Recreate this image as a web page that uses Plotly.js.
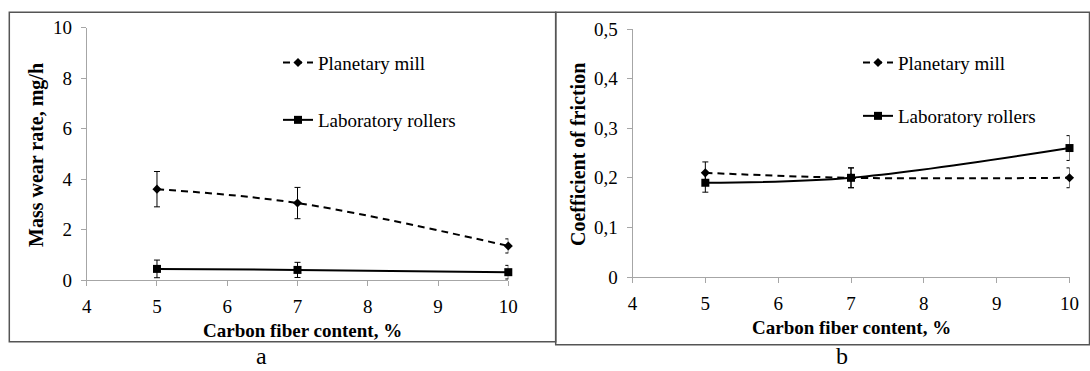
<!DOCTYPE html>
<html>
<head>
<meta charset="utf-8">
<script src="https://cdn.plot.ly/plotly-3.0.1.min.js"></script>
<style>
  html, body { margin: 0; padding: 0; background: #fff; }
  #chart { width: 1090px; height: 371px; }
</style>
</head>
<body>
<div id="chart"></div>
<script>
// ---- Data ----
const carbonContent = [5, 7, 10];

// Panel a: mass wear rate, mg/h
const wearPlanetary = [3.6, 3.05, 1.35];
const wearPlanetaryErr = [0.7, 0.62, 0.28];
const wearRollers = [0.44, 0.4, 0.31];
const wearRollersErr = [0.35, 0.3, 0.27];

// Panel b: coefficient of friction
const frictionPlanetary = [0.21, 0.2, 0.2];
const frictionPlanetaryErr = [0.022, 0.02, 0.02];
const frictionRollers = [0.19, 0.2, 0.26];
const frictionRollersErr = [0.019, 0.02, 0.025];

const seriesNames = ["Planetary mill", "Laboratory rollers"];
const xTitle = "Carbon fiber content, %";
const yTitleA = "Mass wear rate, mg/h";
const yTitleB = "Coefficient of friction";
const panelLabels = ["a", "b"];

// ---- Styling ----
const W = 1090, H = 371;
const px = v => v / W;
const py = v => (H - v) / H;
const FONT = "Liberation Serif";
const AX = "#a6a6a6";

function errBar(arr) {
  return { type: "data", array: arr, visible: true, color: "#000", thickness: 1, width: 3 };
}
function planetaryTrace(y, err, xa, ya, leg) {
  return {
    x: carbonContent, y: y, xaxis: xa, yaxis: ya, legend: leg,
    name: seriesNames[0], type: "scatter", mode: "lines+markers", cliponaxis: false,
    line: { color: "#000", width: 2, dash: "7px,5px", shape: "spline", smoothing: 1 },
    marker: { symbol: "diamond", size: 7, color: "#000" },
    error_y: errBar(err)
  };
}
function rollersTrace(y, err, xa, ya, leg) {
  return {
    x: carbonContent, y: y, xaxis: xa, yaxis: ya, legend: leg,
    name: seriesNames[1], type: "scatter", mode: "lines+markers", cliponaxis: false,
    line: { color: "#000", width: 2, shape: "spline", smoothing: 1 },
    marker: { symbol: "square", size: 8, color: "#000" },
    error_y: errBar(err)
  };
}

const traces = [
  planetaryTrace(wearPlanetary, wearPlanetaryErr, "x", "y", "legend"),
  rollersTrace(wearRollers, wearRollersErr, "x", "y", "legend2"),
  planetaryTrace(frictionPlanetary, frictionPlanetaryErr, "x2", "y2", "legend3"),
  rollersTrace(frictionRollers, frictionRollersErr, "x2", "y2", "legend4")
];

function axisBase() {
  return {
    showline: true, linecolor: AX, linewidth: 1,
    ticks: "outside", ticklen: 5, tickcolor: AX, tickwidth: 1,
    showgrid: false, zeroline: false, fixedrange: true,
    tickfont: { family: FONT, size: 19, color: "#000" }
  };
}

function legendAt(xp, yp) {
  return {
    x: px(xp), y: py(yp), xanchor: "left", yanchor: "middle",
    bgcolor: "rgba(0,0,0,0)", borderwidth: 0,
    font: { family: FONT, size: 19, color: "#000" },
    itemwidth: 30
  };
}

const layout = {
  width: W, height: H,
  margin: { l: 0, r: 0, t: 0, b: 0 },
  paper_bgcolor: "#fff", plot_bgcolor: "#fff",
  font: { family: FONT, size: 19, color: "#000" },
  separators: ", ",
  showlegend: true,
  xaxis: Object.assign(axisBase(), {
    domain: [px(86.7), px(508.3)], range: [4, 10], tick0: 4, dtick: 1, anchor: "y",
    ticklabelstandoff: 4
  }),
  yaxis: Object.assign(axisBase(), {
    domain: [py(280), py(27.7)], range: [0, 10], tick0: 0, dtick: 2, anchor: "x",
    ticklabelstandoff: 5
  }),
  xaxis2: Object.assign(axisBase(), {
    domain: [px(632.5), px(1069.5)], range: [4, 10], tick0: 4, dtick: 1, anchor: "y2",
    ticklabelstandoff: 4
  }),
  yaxis2: Object.assign(axisBase(), {
    domain: [py(277), py(29)], range: [0, 0.5], tick0: 0, dtick: 0.1, anchor: "x2",
    ticklabelstandoff: 5
  }),
  legend: legendAt(278, 62.7),
  legend2: legendAt(278, 120),
  legend3: legendAt(858, 62.7),
  legend4: legendAt(858, 116),
  shapes: [
    { type: "rect", xref: "paper", yref: "paper",
      x0: px(9.3), x1: px(555.7), y0: py(341.7), y1: py(12.3),
      line: { color: "#555", width: 1.5 }, fillcolor: "rgba(0,0,0,0)" },
    { type: "rect", xref: "paper", yref: "paper",
      x0: px(555.7), x1: px(1089.5), y0: py(344.7), y1: py(12.3),
      line: { color: "#555", width: 1.5 }, fillcolor: "rgba(0,0,0,0)" }
  ],
  annotations: [
    { text: xTitle, xref: "paper", yref: "paper", x: px(302), y: py(330),
      xanchor: "center", yanchor: "middle", showarrow: false,
      font: { family: FONT, size: 19, color: "#000", weight: "bold" } },
    { text: xTitle, xref: "paper", yref: "paper", x: px(851.6), y: py(327.9),
      xanchor: "center", yanchor: "middle", showarrow: false,
      font: { family: FONT, size: 19, color: "#000", weight: "bold" } },
    { text: yTitleA, xref: "paper", yref: "paper", x: px(37), y: py(155),
      xanchor: "center", yanchor: "middle", showarrow: false, textangle: -90,
      font: { family: FONT, size: 20, color: "#000", weight: "bold" } },
    { text: yTitleB, xref: "paper", yref: "paper", x: px(578), y: py(155),
      xanchor: "center", yanchor: "middle", showarrow: false, textangle: -90,
      font: { family: FONT, size: 20, color: "#000", weight: "bold" } },
    { text: panelLabels[0], xref: "paper", yref: "paper", x: px(261.7), y: 0,
      xanchor: "center", yanchor: "bottom", showarrow: false,
      font: { family: FONT, size: 24, color: "#000" } },
    { text: panelLabels[1], xref: "paper", yref: "paper", x: px(842), y: 0,
      xanchor: "center", yanchor: "bottom", showarrow: false,
      font: { family: FONT, size: 24, color: "#000" } }
  ]
};

Plotly.newPlot("chart", traces, layout, { displayModeBar: false, staticPlot: true });
</script>
</body>
</html>
